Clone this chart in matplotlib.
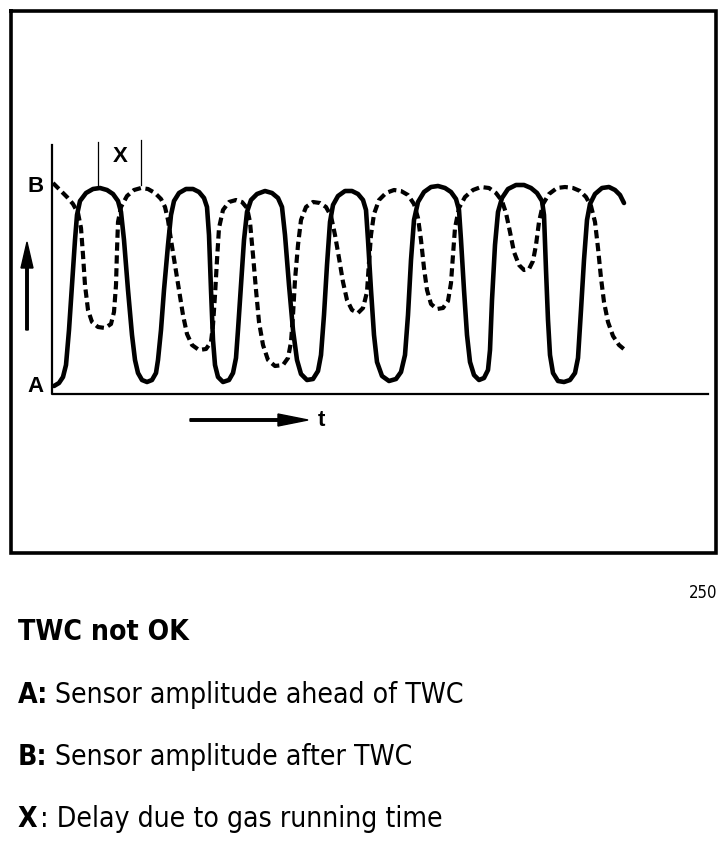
import matplotlib
matplotlib.use("Agg")
import matplotlib.pyplot as plt
import numpy as np

# signal traces (x = time, y = image row of the trace)
# solid: sensor ahead of TWC, swings fully between A and B
solid_t = [54, 59, 63, 66, 69, 72, 75, 77, 80, 86, 93, 100, 107, 113, 118, 121,
           124, 128, 132, 135, 138, 142, 147, 152, 156, 158,
           161, 164, 168, 171, 174, 179, 186, 193, 199, 204, 207,
           209, 211, 213, 215, 218, 223, 229, 233, 236,
           238, 241, 244, 247, 251, 257, 265, 272, 278, 282,
           285, 289, 293, 297, 301, 307, 313, 318, 321,
           324, 327, 330, 333, 338, 345, 352, 358, 363, 366,
           368, 371, 374, 377, 382, 389, 396, 401, 405,
           408, 411, 414, 418, 424, 431, 438, 445, 451, 456, 459,
           461, 464, 467, 470, 474, 479, 484, 488, 490,
           492, 495, 498, 502, 508, 516, 524, 531, 537, 542, 544,
           546, 548, 550, 553, 558, 564, 570, 575, 578,
           581, 584, 587, 590, 595, 602, 609, 615, 620, 624]
solid_v = [386, 383, 377, 365, 330, 285, 240, 215, 201, 193, 189, 188, 190, 194, 201, 212,
           240, 290, 335, 360, 373, 380, 382, 380, 373, 360,
           330, 290, 245, 215, 201, 193, 189, 189, 192, 198, 207,
           235, 290, 340, 365, 377, 382, 380, 373, 358,
           330, 285, 240, 212, 200, 194, 191, 193, 198, 207,
           235, 285, 330, 360, 374, 380, 379, 371, 355,
           315, 265, 222, 205, 196, 191, 191, 194, 200, 210,
           240, 290, 335, 362, 376, 381, 379, 372, 355,
           315, 260, 220, 202, 192, 187, 186, 188, 192, 199, 210,
           240, 290, 335, 362, 375, 380, 378, 370, 350,
           300, 245, 212, 198, 189, 185, 185, 188, 193, 201, 215,
           270, 320, 355, 373, 381, 382, 380, 373, 358,
           310, 260, 220, 204, 194, 188, 187, 190, 195, 203]

# dashed: sensor after TWC, delayed and with smaller swing
dashed_t = [53, 60, 67, 73, 78, 81, 83, 85, 88, 92, 98, 105, 111, 114, 116, 117, 118,
            121, 127, 134, 141, 148, 155, 161, 165, 168, 171, 175, 179, 183, 187,
            192, 199, 206, 211, 213, 215, 217, 219, 223, 229, 236, 242, 247, 250,
            253, 256, 259, 263, 268, 275, 283, 288, 291, 293, 295, 298, 301, 306,
            313, 320, 326, 331, 335, 339, 343, 347, 352, 358, 363, 367, 369, 371,
            374, 379, 386, 394, 401, 408, 414, 418, 421, 424, 427, 431, 437, 443,
            448, 451, 453, 455, 459, 465, 473, 481, 489, 496, 502, 506, 510, 514,
            519, 524, 529, 533, 536, 539, 543, 549, 557, 565, 573, 580, 586, 591,
            595, 598, 601, 604, 608, 613, 619, 625]
dashed_v = [183, 190, 197, 204, 213, 228, 255, 285, 310, 322, 327, 328, 324, 312, 285, 250, 222,
            207, 196, 190, 188, 189, 193, 199, 207, 220, 240, 265, 290, 315, 334,
            345, 350, 349, 342, 325, 295, 260, 228, 210, 202, 200, 202, 208, 222,
            255, 290, 322, 345, 360, 366, 365, 358, 342, 315, 280, 245, 220, 207,
            202, 203, 207, 216, 235, 258, 282, 300, 310, 313, 308, 292, 262, 235,
            214, 200, 193, 190, 191, 195, 204, 218, 240, 268, 290, 304, 309, 308,
            301, 283, 255, 228, 208, 197, 190, 187, 188, 193, 201, 213, 232, 252,
            265, 270, 269, 261, 245, 222, 204, 194, 188, 187, 188, 191, 197, 206,
            222, 248, 278, 302, 322, 336, 345, 350]

caption_title = "TWC not OK"
legend_keys = ["A:", "B:", "X"]
legend_texts = ["Sensor amplitude ahead of TWC", "Sensor amplitude after TWC",
                ": Delay due to gas running time"]
page_number = "250"

narrow = dict(family="DejaVu Sans", fontstretch="condensed")
heavy = dict(family=["Liberation Sans", "DejaVu Sans"], fontweight="bold")

fig = plt.figure(figsize=(7.26, 8.46), dpi=100)
ax = fig.add_axes([0, 0, 1, 1])
ax.set_xlim(0, 726)
ax.set_ylim(846, 0)
ax.axis("off")

# outer frame
ax.plot([11, 716, 716, 11, 11], [11, 11, 553, 553, 11], color="k", lw=2.6,
        solid_joinstyle="miter")

# axes of the diagram
ax.plot([52, 52, 708], [145, 394, 394], color="k", lw=1.6)

ax.plot(dashed_t, dashed_v, color="k", lw=3.0, linestyle=(0, (2.0, 1.1)))
ax.plot(solid_t, solid_v, color="k", lw=3.3, solid_joinstyle="round",
        solid_capstyle="round")

# X marker (delay between peaks)
ax.plot([98, 98], [142, 185], color="k", lw=0.9)
ax.plot([141, 141], [140, 185], color="k", lw=0.9)
ax.text(120, 157, "X", fontsize=16, ha="center", va="center", **heavy)

ax.text(36, 186, "B", fontsize=16, ha="center", va="center", **heavy)
ax.text(36, 386, "A", fontsize=16, ha="center", va="center", **heavy)

# arrows
ax.arrow(27, 330, 0, -88, width=2.5, head_width=12, head_length=26,
         length_includes_head=True, color="k")
ax.arrow(190, 420, 118, 0, width=2.5, head_width=12, head_length=30,
         length_includes_head=True, color="k")
ax.text(321, 420, "t", fontsize=16, ha="center", va="center", **heavy)

# caption
ax.text(717, 598, page_number, fontsize=12, ha="right", va="baseline", **narrow)
ax.text(18, 640, caption_title, fontsize=20.3, fontweight="bold", va="baseline", **narrow)
rows = [703, 765, 827]
starts = [55, 55, 40]
for key, txt, yb, xs in zip(legend_keys, legend_texts, rows, starts):
    ax.text(18, yb, key, fontsize=20.3, fontweight="bold", va="baseline", **narrow)
    ax.text(xs, yb, txt, fontsize=20.3, va="baseline", **narrow)

fig.savefig("out.png", dpi=100)
